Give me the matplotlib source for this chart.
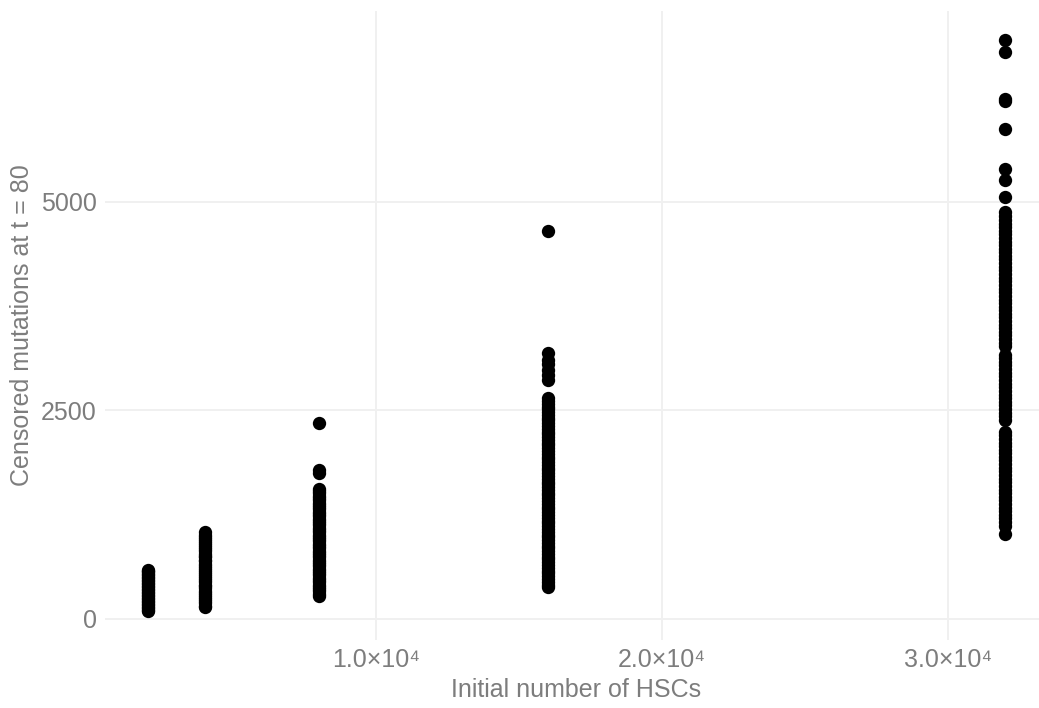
import numpy as np
import matplotlib
matplotlib.use("Agg")
import matplotlib.pyplot as plt

# initial number of HSCs (x groups)
n_hsc = [2000, 4000, 8000, 16000, 32000]

# censored mutations at t = 80 per group
mut_2000 = [92, 105, 128, 141, 163, 180, 197, 214, 236, 251, 272, 290, 306,
            327, 344, 362, 381, 399, 418, 433, 452, 470, 489, 505, 523, 541,
            558, 574, 590]
mut_4000 = [143, 160, 188, 214, 240, 262, 291, 315, 338, 366, 390, 412, 441,
            465, 488, 514, 540, 561, 590, 614, 637, 660, 689, 712, 738, 760,
            784, 812, 835, 861, 884, 910, 936, 958, 985, 1012, 1040]
mut_8000 = [275, 301, 330, 356, 384, 410, 437, 466, 492, 521, 548, 574, 602,
            630, 655, 684, 712, 738, 765, 793, 820, 848, 874, 903, 930, 958,
            984, 1012, 1040, 1066, 1094, 1121, 1148, 1176, 1203, 1230, 1258,
            1286, 1312, 1340, 1368, 1395, 1422, 1450, 1478, 1505, 1530, 1552,
            1755, 1790, 2350]
mut_16000 = [380, 410, 445, 478, 512, 546, 580, 612, 646, 680, 714, 746, 780,
             812, 846, 880, 914, 946, 980, 1012, 1046, 1080, 1112, 1146, 1180,
             1214, 1246, 1280, 1312, 1346, 1380, 1412, 1446, 1480, 1512, 1546,
             1580, 1612, 1646, 1680, 1712, 1746, 1780, 1812, 1846, 1880, 1912,
             1946, 1980, 2012, 2046, 2080, 2112, 2146, 2180, 2212, 2246, 2280,
             2312, 2346, 2380, 2412, 2446, 2480, 2512, 2546, 2580, 2615, 2650,
             2870, 2930, 2990, 3060, 3100, 3185, 4650]
mut_32000 = [1015, 1120, 1160, 1205, 1250, 1290, 1335, 1380, 1420, 1465, 1510,
             1550, 1595, 1640, 1680, 1725, 1770, 1810, 1855, 1900, 1940, 1985,
             2030, 2070, 2115, 2160, 2200, 2240, 2390, 2430, 2475, 2520, 2560,
             2605, 2650, 2690, 2735, 2780, 2820, 2865, 2910, 2950, 2995, 3040,
             3080, 3125, 3170, 3270, 3310, 3355, 3400, 3440, 3485, 3530, 3570,
             3615, 3660, 3700, 3745, 3790, 3830, 3875, 3920, 3960, 4005, 4050,
             4090, 4135, 4180, 4220, 4265, 4310, 4350, 4395, 4440, 4480, 4525,
             4570, 4610, 4655, 4700, 4740, 4785, 4830, 4880, 5060, 5260, 5395,
             5870, 6215, 6230, 6800, 6945]

groups = [mut_2000, mut_4000, mut_8000, mut_16000, mut_32000]

x_ticks = [10000, 20000, 30000]
x_ticklabels = ['1.0×10⁴', '2.0×10⁴', '3.0×10⁴']
y_ticks = [0, 2500, 5000]

plt.rcParams['font.family'] = ['Liberation Sans', 'DejaVu Sans']

txt = '#7d7d7d'
grid = '#f0f0f0'

fig = plt.figure(figsize=(10.39, 7.08), dpi=100)
ax = fig.add_axes([105/1039, 1-640/708, 943/1039, 629/708])

for xv, ys in zip(n_hsc, groups):
    ax.scatter([xv]*len(ys), ys, s=92, color='black', linewidths=0, zorder=3)

ax.set_xlim(500, 33500)
ax.set_ylim(-253, 7290)

ax.set_xticks(x_ticks)
ax.set_xticklabels(x_ticklabels)
ax.set_yticks(y_ticks)
ax.set_yticklabels([str(v) for v in y_ticks])

ax.grid(True, color=grid, linewidth=1.4)
ax.set_axisbelow(True)
for sp in ax.spines.values():
    sp.set_visible(False)
ax.tick_params(length=0, colors=txt, labelsize=18, pad=6)

ax.set_xlabel('Initial number of HSCs', color=txt, fontsize=18, labelpad=4)
ax.set_ylabel('Censored mutations at t = 80', color=txt, fontsize=18, labelpad=5)

fig.savefig('out.png', dpi=100)
